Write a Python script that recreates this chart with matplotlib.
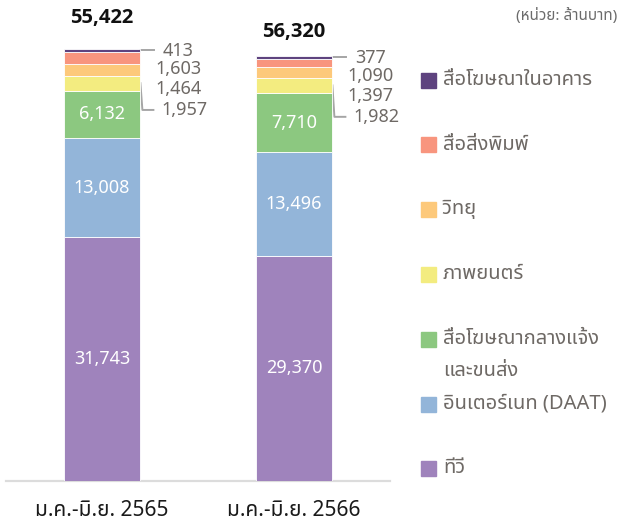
import matplotlib
matplotlib.use('Agg')
import matplotlib.pyplot as plt
from matplotlib.patches import Rectangle
import numpy as np

plt.rcParams['font.family'] = ['Noto Sans Thai', 'Noto Sans', 'DejaVu Sans']

# data (million baht), stacked from the bottom up
periods = ['ม.ค.-มิ.ย. 2565', 'ม.ค.-มิ.ย. 2566']
tv = [31743, 29370]
internet = [13008, 13496]
outdoor = [6132, 7710]
cinema = [1957, 1982]
radio = [1464, 1397]
printed = [1603, 1090]
instore = [413, 377]
totals_shown = [55422, 56320]   # as printed on the original chart

series = [tv, internet, outdoor, cinema, radio, printed, instore]
names = ['ทีวี', 'อินเตอร์เนท (DAAT)', 'สื่อโฆษณากลางแจ้ง\nและขนส่ง',
         'ภาพยนตร์', 'วิทยุ', 'สื่อสิ่งพิมพ์', 'สื่อโฆษณาในอาคาร']
colors = ['#9f83bc', '#93b5d9', '#8cc880', '#f3ec80', '#fdc97b', '#f8957e', '#5e437f']

W, H = 620, 527
fig = plt.figure(figsize=(W / 100, H / 100), dpi=100)
ax = fig.add_axes([6 / W, (H - 481) / H, 384 / W, 481 / H])
ymax = 62700
ax.set_xlim(-0.5, 1.5)
ax.set_ylim(0, ymax)
px_y = ymax / 481     # data units per pixel
px_x = 2 / 384

x = np.arange(len(periods))
bw = 0.4
bottom = np.zeros(len(periods))
for vals, col in zip(series, colors):
    ax.bar(x, vals, bw, bottom=bottom, color=col, edgecolor='white', linewidth=0.6, zorder=2)
    bottom += np.array(vals)
tops = bottom.copy()

# white labels inside the three big segments
cum = np.zeros(len(periods))
for i, vals in enumerate(series):
    if i < 3:
        for j, v in enumerate(vals):
            ax.text(x[j], cum[j] + v / 2, f'{v:,}', ha='center', va='center',
                    color='white', fontsize=13, zorder=3)
    cum += np.array(vals)

# small segments: gray labels to the right with leader lines
gray = '#6e6965'
line_c = '#a5a5a5'
small = [instore, printed, radio, cinema]
drops = [2.5, 20, 40, 61]
shifts = [38, 38, 38, 44]
for j in range(len(periods)):
    edge = x[j] + bw / 2
    for k, vals in enumerate(small):
        ty = tops[j] - drops[k] * px_y
        ax.text(edge + shifts[k] * px_x, ty, f'{vals[j]:,}', ha='center', va='center',
                color=gray, fontsize=13)
    # line to the top segment
    ly = tops[j] - 1.5 * px_y
    ax.plot([edge, edge + 14 * px_x], [ly, ly], color=line_c, lw=1.4, zorder=1, clip_on=False)
    # bracket from the cinema segment down to its label
    mid = tops[j] - instore[j] - printed[j] - radio[j] - cinema[j] / 2
    ly = tops[j] - drops[3] * px_y
    ax.plot([edge, edge + 2 * px_x, edge + 13 * px_x], [mid, ly, ly],
            color=line_c, lw=1.4, zorder=1, clip_on=False)

# totals above the bars
lift = [31, 24]
for j in range(len(periods)):
    ax.text(x[j], tops[j] + lift[j] * px_y, f'{totals_shown[j]:,}', ha='center', va='center',
            fontsize=14.5, fontweight='bold', color='#111111',
            family=['Open Sans', 'Roboto', 'DejaVu Sans'])

ax.axhline(0, color='#dcdcdc', lw=1.6, zorder=1, clip_on=False)
for s in ax.spines.values():
    s.set_visible(False)
ax.set_yticks([])
ax.set_xticks(x)
ax.set_xticklabels(periods, fontsize=15, color='#1a1a1a')
ax.tick_params(axis='x', length=0, pad=14)

# legend, drawn by hand (top entry first)
rows = [80, 145, 209, 274, 339, 404, 468]
for r, (name, col) in zip(rows, zip(names[::-1], colors[::-1])):
    fig.patches.append(Rectangle((421 / W, 1 - (r + 7.5) / H), 15 / W, 15 / H,
                                 transform=fig.transFigure, color=col))
    for n, line in enumerate(name.split('\n')):
        fig.text(443 / W, 1 - (r + 5 + n * 32) / H, line, ha='left', va='baseline',
                 fontsize=14.5, color=gray)

fig.text(617 / W, 1 - 16 / H, '(หน่วย: ล้านบาท)', ha='right', va='center',
         fontsize=11, style='italic', color='#6b6b6b')

fig.savefig('out.png', dpi=100)
